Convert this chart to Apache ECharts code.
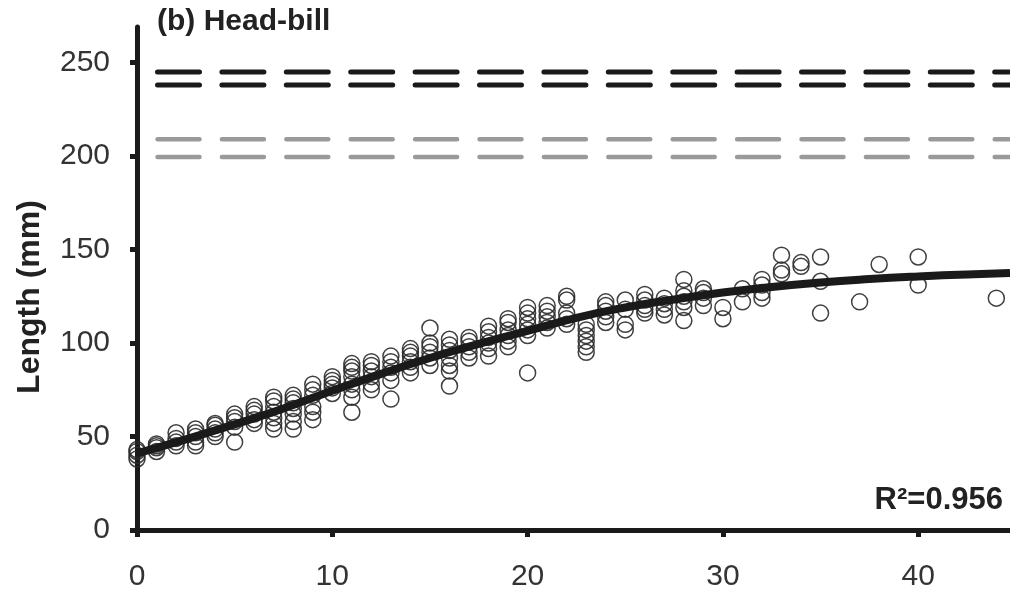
<!DOCTYPE html>
<html><head><meta charset="utf-8">
<script src="https://cdn.jsdelivr.net/npm/echarts@6/dist/echarts.min.js"></script>
<style>html,body{margin:0;padding:0;background:#fff}#c{width:1010px;height:593px}</style>
</head><body><div id="c"></div>
<script>
// ---- data ----
const ages = [0,1,2,3,4,5,6,7,8,9,10,11,12,13,14,15,16,17,18,19,20,21,22,23,24,25,26,27,28,29,30,31,32,33,34,35,37,38,40,44];
const lengthsByAge = [
  [38,40,42,43],
  [42,44,45,46],
  [45,47,49,52],
  [45,47,50,52,54],
  [50,52,54,56,57],
  [47,55,58,60,62],
  [57,59,62,64,66],
  [54,57,60,63,66,69,71],
  [54,58,62,65,68,70,72],
  [59,63,66,72,75,78],
  [73,76,78,80,82],
  [63,71,75,78,82,85,87,89],
  [75,78,82,85,88,90],
  [70,80,84,87,90,93],
  [84,87,90,93,95,97],
  [88,92,95,98,100,108],
  [77,85,88,92,96,99,102],
  [92,95,98,101,103],
  [93,97,100,103,106,109],
  [98,101,104,107,111,113],
  [84,104,107,110,113,116,119],
  [108,111,114,117,120],
  [110,113,116,123,125],
  [95,98,101,104,107,110],
  [111,114,117,120,122],
  [107,110,118,123],
  [116,118,120,123,126],
  [115,118,121,124],
  [112,119,122,125,128,134],
  [120,124,127,129],
  [113,119],
  [122,129],
  [124,127,131,134],
  [137,139,147],
  [141,143],
  [116,133,146],
  [122],
  [142],
  [131,146],
  [124]
];
const curveX = [0,2.5,5,7.5,10,12.5,15,17.5,20,22.5,25,27.5,30,32.5,35,37.5,40,42.5,44.7];
const curveY = [41,48.5,56.5,65,74.5,83.5,92,99.5,106.5,113.5,119,123.3,127,130,132.4,134.2,135.6,136.7,137.5];
const refLevels = [245, 238, 209, 199.5];
const yTicks = [0,50,100,150,200,250];
const xTicks = [0,10,20,30,40];
const xMax = 44.7, yMax = 269;
const titleText = '(b) Head-bill';
const yName = 'Length (mm)';
const r2Text = 'R\u00B2=0.956';

// ---- build ----
const scatterData = [];
ages.forEach((a, i) => lengthsByAge[i].forEach(v => scatterData.push([a, v])));
const curveData = curveX.map((x, i) => [x, curveY[i]]);
const refColors = ['#1a1a1a', '#1a1a1a', '#9a9a9a', '#9a9a9a'];
const refWidths = [5, 5, 4.5, 4.5];
const FONT = 'Liberation Sans, Arial, sans-serif';

const refSeries = refLevels.map((lv, i) => ({
  type: 'line', data: [[0, lv], [xMax, lv]], symbol: 'none', silent: true,
  lineStyle: { color: refColors[i], width: refWidths[i], type: [42, 22.4], dashOffset: 43.9, cap: 'round' },
  z: 2
}));

const chart = echarts.init(document.getElementById('c'), null, { renderer: 'canvas' });
chart.setOption({
  animation: false,
  backgroundColor: '#fff',
  grid: { left: 137, right: 0, top: 27, bottom: 63, containLabel: false },
  xAxis: {
    type: 'value', min: 0, max: xMax, interval: 10,
    axisLine: { show: true, lineStyle: { color: '#1a1a1a', width: 5 } },
    axisTick: { show: true, inside: false, length: 7, lineStyle: { color: '#1a1a1a', width: 5 } },
    axisLabel: { color: '#333', fontSize: 30, fontFamily: FONT, margin: 32,
      formatter: v => xTicks.includes(v) ? String(v) : '' , showMaxLabel: false },
    splitLine: { show: false }
  },
  yAxis: {
    type: 'value', min: 0, max: yMax, interval: 50,
    axisLine: { show: true, lineStyle: { color: '#1a1a1a', width: 5 } },
    axisTick: { show: true, inside: false, length: 7, lineStyle: { color: '#1a1a1a', width: 5 } },
    axisLabel: { color: '#333', fontSize: 30, fontFamily: FONT, margin: 27,
      formatter: v => yTicks.includes(v) ? String(v) : '', showMaxLabel: false },
    splitLine: { show: false }
  },
  graphic: [
    { type: 'text', left: 157, top: 7, style: { text: titleText, font: 'bold 30px ' + FONT, fill: '#222' } },
    { type: 'text', x: 30, y: 297, rotation: Math.PI / 2,
      style: { text: yName, font: 'bold 32px ' + FONT, fill: '#222', align: 'center', verticalAlign: 'middle' } },
    { type: 'text', x: 1003, y: 500,
      style: { text: r2Text, font: 'bold 31px ' + FONT, fill: '#222', align: 'right', verticalAlign: 'middle' } }
  ],
  series: [
    ...refSeries,
    {
      type: 'scatter', data: scatterData, symbol: 'circle', symbolSize: 16, silent: true,
      itemStyle: { color: 'rgba(0,0,0,0)', borderColor: '#2b2b2b', borderWidth: 1.5, opacity: 0.9 },
      z: 3
    },
    {
      type: 'line', data: curveData, smooth: 0.5, symbol: 'none', silent: true,
      lineStyle: { color: '#1a1a1a', width: 8, join: 'round' }, z: 4
    }
  ]
});
</script>
</body></html>
